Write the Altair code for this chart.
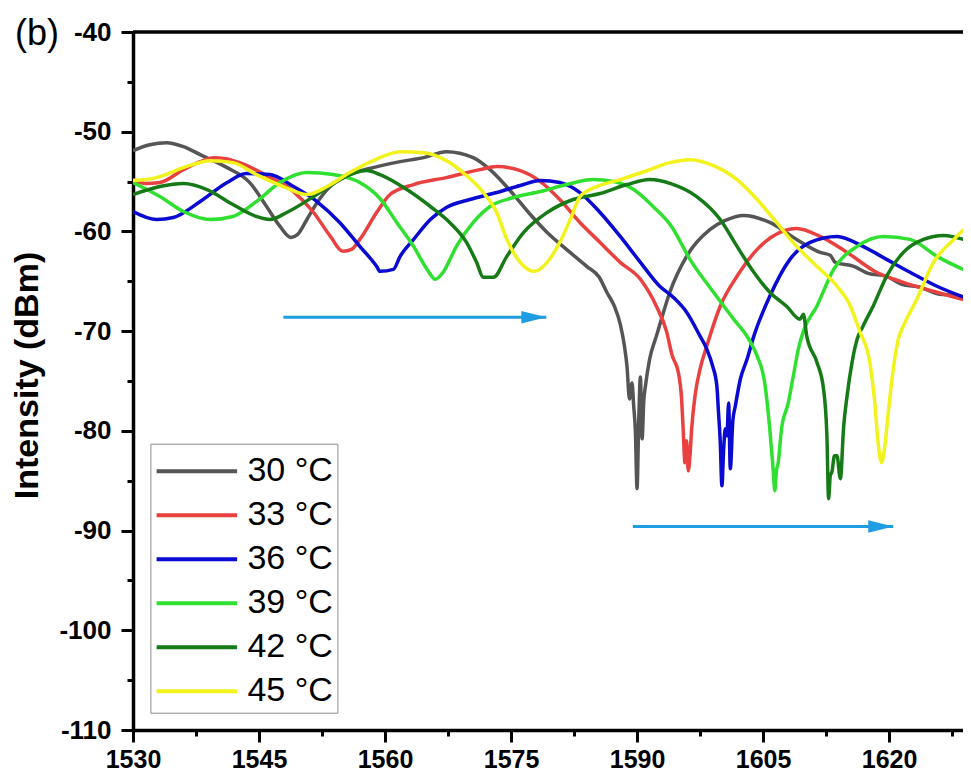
import altair as alt
import pandas as pd

# ---------------- data ----------------
temps = ["30 °C", "33 °C", "36 °C", "39 °C", "42 °C", "45 °C"]
colors = ["#555555", "#e8413f", "#0a0ad2", "#30e030", "#167a16", "#f2f21c"]

wl_30 = [1530.0, 1532.0, 1534.0, 1536.0, 1538.0, 1541.2, 1543.9, 1545.9, 1547.5, 1548.8, 1549.6, 1550.7, 1552.0, 1553.1,
         1555.8, 1558.6, 1561.8, 1564.6, 1567.3, 1570.5, 1572.5, 1575.3, 1577.3, 1579.3, 1581.6, 1584.0, 1585.5, 1586.4,
         1587.3, 1588.0, 1588.5, 1588.8, 1589.1, 1589.4, 1589.6, 1589.8, 1590.0, 1590.2, 1590.4, 1590.6, 1590.8, 1591.0,
         1591.5, 1592.3, 1593.0, 1593.9, 1595.9, 1598.7, 1600.5, 1602.7, 1605.8, 1609.0, 1611.8, 1613.0, 1613.6, 1615.8,
         1617.5, 1619.7, 1621.5, 1623.7, 1626.0, 1628.0, 1629.6, 1631.0]
db_30 = [-51.9, -51.3, -51.1, -51.5, -52.3, -53.6, -55.1, -57.5, -59.5, -60.6, -60.3, -58.8, -57.0, -55.8,
         -54.3, -53.6, -53.0, -52.6, -52.0, -52.6, -53.8, -56.3, -58.3, -60.1, -61.8, -63.5, -64.6, -66.1,
         -67.5, -69.3, -71.5, -73.5, -76.8, -75.2, -77.5, -80.0, -85.8, -79.0, -74.6, -80.8, -77.0, -75.5,
         -72.8, -70.5, -68.5, -66.1, -62.5, -59.8, -58.9, -58.4, -59.1, -60.8, -62.1, -62.4, -63.1, -63.5,
         -64.2, -64.5, -65.3, -65.6, -66.3, -66.4, -66.8, -67.1]

wl_33 = [1530.0, 1531.5, 1533.2, 1536.0, 1538.0, 1539.6, 1541.0, 1542.7, 1545.9, 1549.1, 1551.5, 1553.5, 1555.0, 1556.0,
         1557.0, 1559.0, 1560.6, 1563.4, 1567.3, 1571.3, 1573.3, 1576.1, 1578.5, 1580.8, 1583.2, 1585.6, 1588.0, 1590.4,
         1592.3, 1593.5, 1594.2, 1594.9, 1595.3, 1595.5, 1595.7, 1595.9, 1596.1, 1596.3, 1596.5, 1596.9, 1597.5, 1598.3,
         1599.9, 1601.9, 1604.3, 1607.0, 1609.0, 1611.8, 1615.0, 1618.5, 1621.7, 1625.7, 1629.6, 1631.0]
db_33 = [-54.8, -55.2, -55.1, -53.8, -53.0, -52.6, -52.7, -53.1, -54.4, -56.0, -58.1, -60.5, -62.0, -61.8,
         -60.8, -58.1, -56.3, -55.3, -54.6, -53.8, -53.5, -53.9, -55.0, -56.8, -59.1, -61.1, -63.1, -64.8,
         -67.5, -70.0, -72.5, -74.1, -76.8, -80.0, -83.2, -81.0, -84.0, -82.5, -79.8, -76.5, -73.8, -71.5,
         -67.5, -64.5, -61.8, -60.1, -59.7, -60.5, -62.1, -64.1, -65.1, -66.1, -67.0, -67.3]

wl_36 = [1530.0, 1532.8, 1534.8, 1538.0, 1541.2, 1543.5, 1546.3, 1549.1, 1551.9, 1554.6, 1557.0, 1559.0, 1559.4, 1561.0,
         1561.8, 1563.4, 1565.4, 1567.3, 1570.1, 1573.3, 1576.1, 1578.5, 1580.8, 1583.2, 1585.6, 1588.0, 1590.4, 1592.7,
         1594.3, 1595.9, 1597.5, 1598.3, 1599.0, 1599.5, 1599.7, 1599.9, 1600.1, 1600.3, 1600.5, 1600.7, 1600.9, 1601.1,
         1601.4, 1601.7, 1602.3, 1603.1, 1603.9, 1605.8, 1608.2, 1610.6, 1613.8, 1616.9, 1619.7, 1622.5, 1625.7, 1629.6,
         1631.0]
db_36 = [-58.0, -58.8, -58.6, -57.0, -55.1, -54.2, -54.3, -55.5, -57.0, -59.1, -61.5, -63.5, -64.0, -63.8,
         -62.5, -60.8, -58.8, -57.6, -56.8, -56.1, -55.4, -54.9, -55.1, -56.1, -58.1, -60.5, -63.1, -65.5,
         -66.6, -68.1, -70.5, -71.8, -73.5, -75.5, -78.2, -81.0, -85.5, -82.0, -79.8, -80.5, -77.2, -83.8,
         -79.0, -77.5, -74.8, -72.8, -70.5, -66.5, -62.8, -61.1, -60.5, -61.5, -62.8, -64.1, -65.5, -66.8,
         -67.2]

wl_39 = [1530.0, 1533.2, 1536.0, 1539.2, 1541.9, 1544.7, 1547.5, 1550.7, 1553.8, 1557.0, 1559.4, 1561.4, 1563.4, 1565.0,
         1566.0, 1566.9, 1568.5, 1570.5, 1572.5, 1575.3, 1578.5, 1581.6, 1584.8, 1587.2, 1589.6, 1591.9, 1594.1, 1596.3,
         1599.1, 1601.5, 1603.3, 1604.3, 1605.2, 1605.8, 1606.2, 1606.4, 1606.6, 1606.8, 1607.2, 1608.0, 1608.6, 1609.2,
         1609.8, 1611.4, 1613.4, 1616.2, 1619.3, 1622.5, 1625.7, 1629.6, 1631.0]
db_39 = [-55.1, -56.5, -58.0, -58.8, -58.5, -57.0, -55.1, -54.1, -54.3, -55.1, -56.7, -59.1, -61.5, -63.8,
         -64.8, -64.1, -61.5, -59.1, -57.5, -56.6, -56.0, -55.3, -54.8, -55.0, -55.8, -57.5, -59.5, -62.8,
         -66.1, -68.8, -70.8, -72.5, -75.2, -79.8, -83.9, -86.0, -84.0, -83.2, -79.8, -77.2, -74.5, -71.8,
         -70.0, -67.5, -63.8, -61.5, -60.5, -60.8, -62.5, -64.1, -64.6]

wl_42 = [1530.0, 1533.2, 1536.0, 1538.8, 1541.9, 1544.7, 1546.3, 1548.3, 1551.5, 1554.6, 1557.8, 1559.4, 1562.6, 1565.4,
         1567.7, 1569.7, 1570.9, 1571.7, 1572.9, 1574.5, 1576.5, 1579.3, 1582.4, 1585.6, 1588.8, 1591.5, 1594.0, 1597.1,
         1599.9, 1601.9, 1603.9, 1605.8, 1607.8, 1609.4, 1609.8, 1610.2, 1611.4, 1612.2, 1612.6, 1612.8, 1613.0, 1613.2,
         1613.5, 1613.8, 1614.2, 1614.6, 1615.0, 1615.6, 1616.2, 1616.9, 1618.1, 1619.7, 1621.7, 1624.1, 1626.5, 1629.6,
         1631.0]
db_42 = [-56.3, -55.5, -55.2, -55.8, -57.3, -58.5, -58.8, -58.1, -56.5, -54.8, -53.9, -54.3, -55.8, -57.5,
         -59.1, -61.1, -63.1, -64.6, -64.6, -62.5, -60.1, -58.1, -56.8, -56.2, -55.3, -54.8, -55.2, -56.5,
         -58.8, -61.5, -64.1, -66.1, -67.5, -68.8, -68.3, -70.5, -73.1, -75.8, -80.5, -86.8, -84.5, -84.1,
         -82.5, -82.5, -84.8, -79.5, -76.5, -73.1, -70.8, -69.5, -67.5, -64.5, -62.1, -60.8, -60.4, -61.0,
         -61.4]

wl_45 = [1530.0, 1532.8, 1536.0, 1539.2, 1541.9, 1544.7, 1547.9, 1550.7, 1553.1, 1555.8, 1558.6, 1561.8, 1564.6, 1567.3,
         1569.7, 1571.7, 1573.3, 1574.5, 1576.1, 1577.7, 1579.3, 1580.8, 1582.2, 1583.2, 1585.2, 1588.0, 1591.2, 1593.9,
         1596.3, 1599.1, 1601.9, 1604.3, 1606.6, 1609.0, 1611.4, 1613.8, 1615.4, 1616.5, 1617.7, 1618.3, 1618.7, 1619.1,
         1619.5, 1619.9, 1620.5, 1621.1, 1621.7, 1623.3, 1625.3, 1627.7, 1629.6, 1631.0]
db_45 = [-54.9, -54.6, -53.6, -52.9, -53.1, -54.3, -55.5, -56.3, -55.5, -54.1, -52.9, -52.0, -52.1, -52.9,
         -54.4, -56.1, -58.1, -60.8, -63.1, -64.0, -63.1, -61.1, -58.5, -56.5, -55.5, -54.8, -53.9, -53.1,
         -52.8, -53.4, -54.8, -56.8, -59.1, -61.5, -63.5, -65.5, -67.5, -70.0, -73.1, -77.2, -81.2, -83.2,
         -81.5, -78.2, -73.8, -70.8, -69.5, -66.8, -63.1, -60.8, -59.3, -58.5]

# annotation arrows (wavelength start, wavelength tip, level)
arrow_start = [1547.9, 1589.5]
arrow_tip = [1579.2, 1620.5]
arrow_level = [-68.6, -89.6]

x_major = [1530, 1545, 1560, 1575, 1590, 1605, 1620]
x_minor = [1537.5, 1552.5, 1567.5, 1582.5, 1597.5, 1612.5, 1627.5]
y_major = [-110, -100, -90, -80, -70, -60, -50, -40]
y_minor = [-105, -95, -85, -75, -65, -55, -45]

# ---------------- tables ----------------
series = [(temps[0], wl_30, db_30), (temps[1], wl_33, db_33), (temps[2], wl_36, db_36),
          (temps[3], wl_39, db_39), (temps[4], wl_42, db_42), (temps[5], wl_45, db_45)]
rows = []
for name, wl, db in series:
    for i, (a, b) in enumerate(zip(wl, db)):
        rows.append({"series": name, "order": i, "wl": a, "db": b})
df = pd.DataFrame(rows)
arrows = pd.DataFrame({"x0": arrow_start, "x1": arrow_tip, "y": arrow_level})

FONT = "Liberation Sans"
x_scale = alt.Scale(domain=[1530, 1628.8], nice=False, zero=False)
y_scale = alt.Scale(domain=[-110, -40], nice=False, zero=False)

x_axis = alt.Axis(values=x_major, orient="bottom", tickSize=12, tickWidth=3, tickColor="black",
                  domainColor="black", domainWidth=3.5, labelFont=FONT, labelFontSize=25,
                  labelFontWeight="bold", labelColor="black", labelPadding=5, labelFlush=False,
                  labelOverlap=False, labelExpr="'' + datum.value", title=None, grid=False)
y_axis = alt.Axis(values=y_major, orient="left", tickSize=12, tickWidth=3, tickColor="black",
                  domainColor="black", domainWidth=3.5, labelFont=FONT, labelFontSize=26,
                  labelFontWeight="bold", labelColor="black", labelPadding=10, labelFlush=False,
                  labelOverlap=False, labelExpr="'' + datum.value",
                  title="Intensity (dBm)", titleFont=FONT, titleFontSize=34,
                  titleFontWeight="bold", titleColor="black", titleX=-89, titleY=343, grid=False)
x_axis_minor = alt.Axis(values=x_minor, orient="bottom", tickSize=6, tickWidth=3, tickColor="black",
                        labels=False, domain=False, title=None, grid=False)
y_axis_minor = alt.Axis(values=y_minor, orient="left", tickSize=6, tickWidth=3, tickColor="black",
                        labels=False, domain=False, title=None, grid=False)

lines = alt.Chart(df).mark_line(strokeWidth=3.5, clip=True, interpolate="monotone").encode(
    x=alt.X("wl:Q", scale=x_scale, axis=x_axis),
    y=alt.Y("db:Q", scale=y_scale, axis=y_axis),
    color=alt.Color("series:N", scale=alt.Scale(domain=temps, range=colors),
                    legend=alt.Legend(title=None, orient="none", legendX=17.4, legendY=411.7,
                                      padding=4, strokeColor="#8c8c8c", fillColor="white",
                                      symbolType="M-1,0L2.78,0", symbolSize=1815, symbolStrokeWidth=4,
                                      labelFont=FONT, labelFontSize=34, labelColor="black",
                                      labelOffset=46, rowPadding=3, labelLimit=0)),
    order="order:Q",
)

top_frame = alt.Chart(pd.DataFrame({"v": [-40]})).mark_rule(color="black", strokeWidth=3.5).encode(
    y=alt.Y("v:Q", scale=y_scale, axis=y_axis_minor),
)
minor_x_layer = alt.Chart(pd.DataFrame({"v": [1530]})).mark_point(opacity=0).encode(
    x=alt.X("v:Q", scale=x_scale, axis=x_axis_minor),
)

arrow_lines = alt.Chart(arrows).mark_rule(color="#1f9de3", strokeWidth=3).encode(
    x=alt.X("x0:Q", scale=x_scale, axis=None), x2="x1:Q", y=alt.Y("y:Q", scale=y_scale, axis=None)
)
arrow_heads = alt.Chart(arrows).mark_point(shape="M-2,-0.5L0,0L-2,0.5Z", size=625, filled=True,
                                           color="#1f9de3", opacity=1).encode(
    x=alt.X("x1:Q", scale=x_scale, axis=None), y=alt.Y("y:Q", scale=y_scale, axis=None)
)

panel = alt.Chart(pd.DataFrame({"label": ["(b)"]})).mark_text(
    font=FONT, fontSize=36, color="black", align="center", baseline="middle"
).encode(x=alt.value(-96), y=alt.value(2), text="label:N")

chart = alt.layer(lines, top_frame, minor_x_layer, arrow_lines, arrow_heads, panel).resolve_axis(
    x="independent", y="independent"
).properties(
    width=830, height=698,
    autosize=alt.AutoSizeParams(type="none"),
    padding={"left": 125, "top": 24, "right": 0, "bottom": 43},
).configure_view(stroke=None).configure(background="white")

chart.save("out.html", embed_options={"renderer": "svg", "actions": False})
